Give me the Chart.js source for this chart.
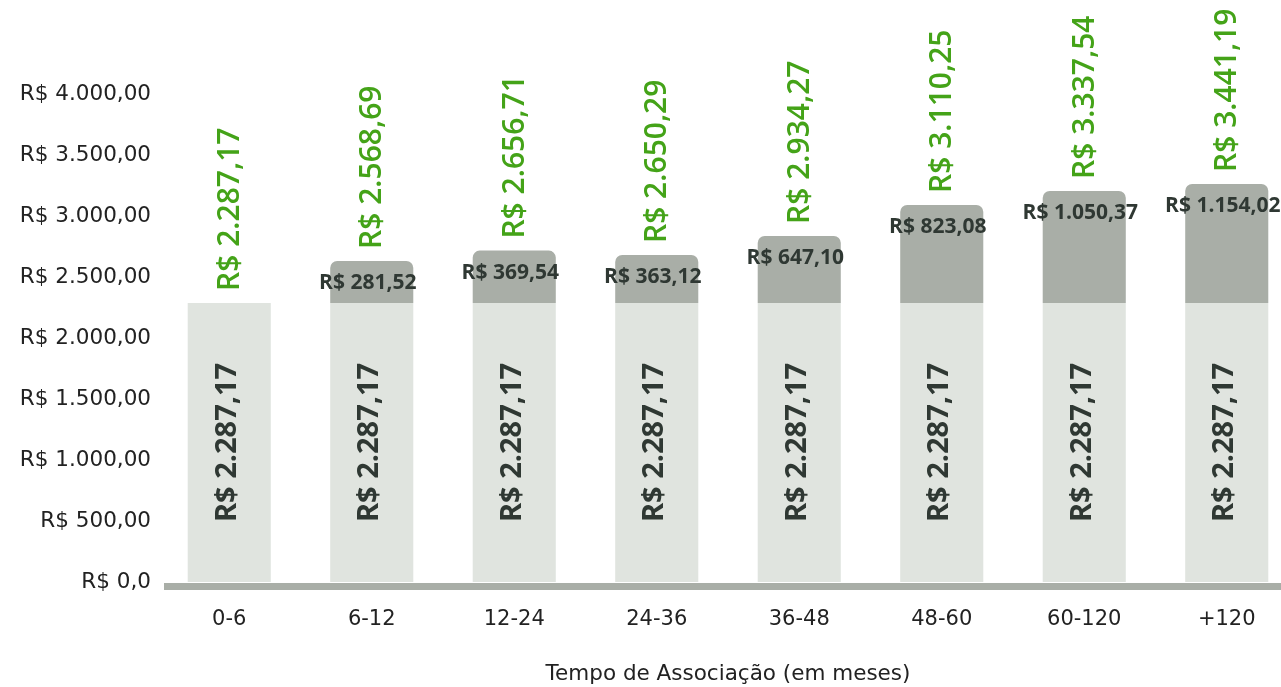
<!DOCTYPE html>
<html>
<head>
<meta charset="utf-8">
<script src="https://cdn.jsdelivr.net/npm/chart.js@4"></script>
<style>
  html, body { margin: 0; padding: 0; background: #fff; overflow: hidden; }
  #wrap { width: 1300px; height: 687px; }
</style>
</head>
<body>
<div id="wrap"><canvas id="chart"></canvas></div>
<script>
// categories (months of membership)
const categories = ["0-6", "6-12", "12-24", "24-36", "36-48", "48-60", "60-120", "+120"];
// base value shown in the light bars
const baseValues = [2287.17, 2287.17, 2287.17, 2287.17, 2287.17, 2287.17, 2287.17, 2287.17];
// increment labels shown on the dark segment
const extraLabels = [0, 281.52, 369.54, 363.12, 647.10, 823.08, 1050.37, 1154.02];
// dark segment heights as drawn in the picture
const extraHeights = [0, 344, 429, 393, 549, 803, 918, 975];
// totals printed in green above the bars
const totalValues = [2287.17, 2568.69, 2656.71, 2650.29, 2934.27, 3110.25, 3337.54, 3441.19];
const yTicks = [0, 500, 1000, 1500, 2000, 2500, 3000, 3500, 4000];

const FONT = "'Open Sans', 'Noto Sans', sans-serif";
const AXIS_FONT = "'DejaVu Sans', sans-serif";
const DARK = "#2f3833";
const GREEN = "#44a318";
const LIGHT_BAR = "#e0e4df";
const DARK_BAR = "#a9aea7";

function brl(v) {
    if (v === 0) return "R$ 0,0";
    const parts = v.toFixed(2).split(".");
    const int = parts[0].replace(/\B(?=(\d{3})+(?!\d))/g, ".");
    return "R$ " + int + "," + parts[1];
}

// thick base line + value labels
const decor = {
    id: "decor",
    afterDatasetsDraw(chart) {
        const ctx = chart.ctx;
        const area = chart.chartArea;
        ctx.save();
        ctx.fillStyle = DARK_BAR;
        ctx.fillRect(area.left + 6, area.bottom + 1, chart.width - area.left, 7);

        const baseMeta = chart.getDatasetMeta(0);
        const topMeta = chart.getDatasetMeta(1);
        categories.forEach((c, i) => {
            const b = baseMeta.data[i];
            const t = topMeta.data[i];

            // rotated base label
            ctx.save();
            ctx.translate(b.x - 2, (b.y + b.base) / 2);
            ctx.rotate(-Math.PI / 2);
            ctx.font = "bold 29px " + FONT;
            ctx.fillStyle = DARK;
            ctx.textAlign = "center";
            ctx.textBaseline = "middle";
            ctx.fillText(brl(baseValues[i]), 0, 0);
            ctx.restore();

            let topY = b.y;
            if (extraHeights[i] > 0) {
                topY = t.y;
                ctx.font = "bold 21px " + FONT;
                ctx.fillStyle = DARK;
                ctx.textAlign = "center";
                ctx.textBaseline = "middle";
                ctx.fillText(brl(extraLabels[i]), t.x - 4, t.y + 22);
            }

            // green total
            ctx.save();
            ctx.translate(b.x + 1, topY - 12);
            ctx.rotate(-Math.PI / 2);
            ctx.font = "600 30px " + FONT;
            ctx.fillStyle = GREEN;
            ctx.textAlign = "left";
            ctx.textBaseline = "middle";
            ctx.fillText(brl(totalValues[i]), 0, 0);
            ctx.restore();
        });
        ctx.restore();
    }
};

new Chart(document.getElementById("chart"), {
    type: "bar",
    data: {
        labels: categories,
        datasets: [
            {
                data: baseValues,
                backgroundColor: LIGHT_BAR,
                borderWidth: 0
            },
            {
                data: extraHeights,
                backgroundColor: DARK_BAR,
                borderWidth: 0,
                borderRadius: { topLeft: 7, topRight: 7, bottomLeft: 0, bottomRight: 0 },
                borderSkipped: false
            }
        ]
    },
    options: {
        responsive: true,
        maintainAspectRatio: false,
        animation: false,
        layout: { padding: { top: 0, right: 2, bottom: 0, left: 0 } },
        plugins: {
            legend: { display: false },
            tooltip: { enabled: false }
        },
        datasets: {
            bar: { categoryPercentage: 1, barPercentage: 0.583 }
        },
        scales: {
            x: {
                stacked: true,
                grid: { display: false, drawTicks: false },
                border: { display: false },
                ticks: {
                    color: "#222",
                    font: { family: AXIS_FONT, size: 21 },
                    padding: 25,
                    maxRotation: 0
                },
                title: {
                    display: true,
                    text: "Tempo de Associação (em meses)",
                    color: "#222",
                    font: { family: AXIS_FONT, size: 21.5 },
                    padding: { top: 0, bottom: 0 }
                },
                afterFit(scale) { scale.height = 105; }
            },
            y: {
                stacked: true,
                min: 0,
                max: 4770,
                grid: { display: false, drawTicks: false },
                border: { display: false },
                afterBuildTicks(scale) {
                    scale.ticks = yTicks.map(v => ({ value: v }));
                },
                ticks: {
                    color: "#222",
                    font: { family: AXIS_FONT, size: 21.5 },
                    padding: 7,
                    callback: v => brl(v)
                },
                afterFit(scale) {
                    scale.width = 158;
                    scale.paddingTop = 0;
                    scale.paddingBottom = 0;
                }
            }
        }
    },
    plugins: [decor]
});
</script>
</body>
</html>
